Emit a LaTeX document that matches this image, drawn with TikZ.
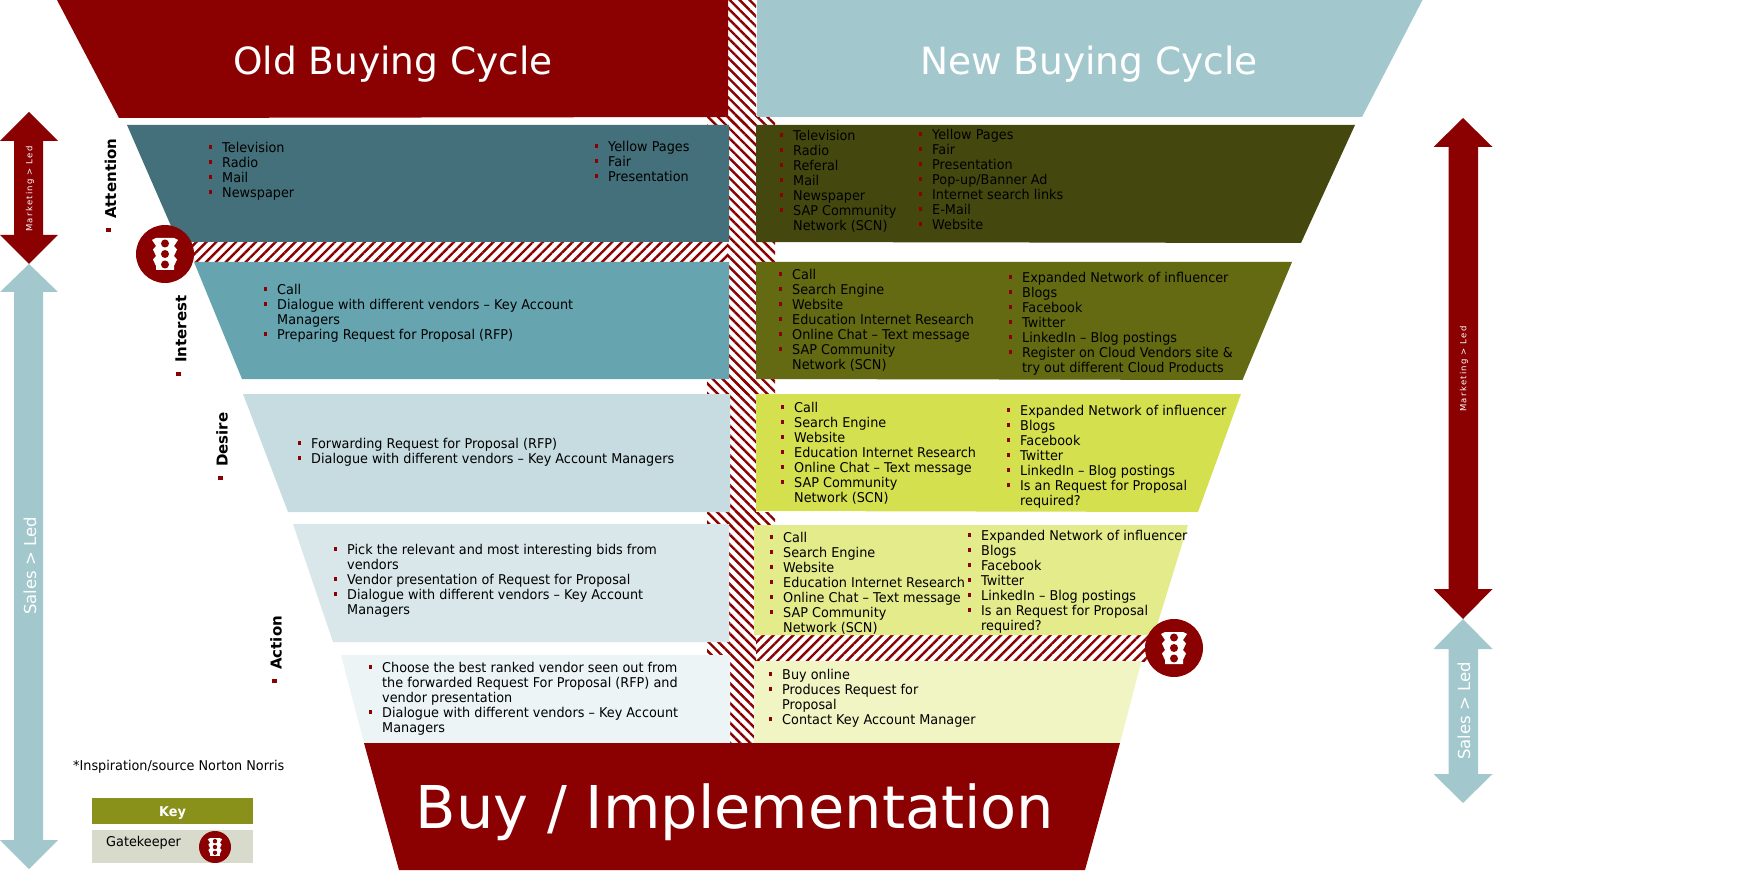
\documentclass[tikz,border=0pt]{standalone}
\usepackage{fontspec}
\setmainfont[FakeStretch=0.95]{DejaVu Sans}
\newfontfamily\headfont{DejaVu Sans}
\newfontfamily\stagefont{DejaVu Sans}
\newfontfamily\spacedfont[LetterSpace=15]{DejaVu Sans}
\usetikzlibrary{patterns.meta}
\definecolor{dkred}{HTML}{8B0000}
\definecolor{newhead}{HTML}{A2C8CD}
\definecolor{oa}{HTML}{43707A}
\definecolor{ob}{HTML}{66A4AF}
\definecolor{oc}{HTML}{C6DCE0}
\definecolor{od}{HTML}{D9E7EA}
\definecolor{oe}{HTML}{ECF4F5}
\definecolor{na}{HTML}{45480E}
\definecolor{nb}{HTML}{636A12}
\definecolor{nc}{HTML}{D5E04F}
\definecolor{nd}{HTML}{E4EB8A}
\definecolor{ne}{HTML}{F1F4C3}
\definecolor{keyc}{HTML}{8A911A}
\definecolor{gatec}{HTML}{D8DACC}
\newcommand{\itm}{\makebox[13.5pt][l]{\rule[-3.5pt]{0pt}{15pt}\textcolor{dkred}{\rule[3pt]{3pt}{4pt}}}}
\newcommand{\cnt}{\hspace*{13.5pt}\rule[-3.5pt]{0pt}{15pt}}
\tikzset{
  lst/.style={anchor=north west,inner sep=0pt,align=left,font=\fontsize{13.5}{15}\selectfont,text=black},
  hatchr/.style={pattern={Lines[angle=-45,distance=7pt,line width=2.4pt]},pattern color=dkred},
  hatchl/.style={pattern={Lines[angle=45,distance=7pt,line width=2.4pt]},pattern color=dkred},
  title/.style={text=white,inner sep=0pt,font=\headfont\fontsize{37.5}{44}\selectfont},
  stage/.style={rotate=90,anchor=west,inner sep=0pt,font=\stagefont\bfseries\fontsize{15}{17}\selectfont},
  arrowtext/.style={rotate=90,text=white,inner sep=0pt},
  pics/signal/.style={code={
    \fill[white] (-9,-16)--(9,-16)--(13,-14)--(9,-8)--(12,-4.5)--(9,2)--(12,5.5)--(9,12)--(9,16)--(-9,16)--(-9,12)--(-12,5.5)--(-9,2)--(-12,-4.5)--(-9,-8)--(-13,-14)--cycle;
    \fill[dkred] (0,-10.5) circle[radius=4] (0,0) circle[radius=4] (0,10.5) circle[radius=4];
  }},
}
\begin{document}
\begin{tikzpicture}[x=1pt,y=-1pt]
\useasboundingbox (0,0) rectangle (1742,874);
% hatching
\path[hatchr] (728,0) rectangle (756,743);
\foreach \a/\b in {117/125,379/394,512/525}{
  \path[hatchr] (707,\a) rectangle (775,\b);
}
\path[hatchr] (707,642) rectangle (728,655);
\path[hatchl] (190,242) rectangle (728,262);
\path[hatchr] (756,242) rectangle (775,262);
\path[hatchl] (756,635) rectangle (1160,661);
% old cycle
\fill[dkred] (57,0)--(728,0)--(728,117)--(119,118)--cycle;
\fill[oa] (127,125)--(729,125)--(729,242)--(178,242)--cycle;
\fill[ob] (194,262)--(729,262)--(729,379)--(242,379)--cycle;
\fill[oc] (243,394)--(730,394)--(730,512)--(288,512)--cycle;
\fill[od] (293,524)--(729,524)--(729,642)--(333,642)--cycle;
\fill[oe] (341,655)--(730,655)--(730,743)--(364,743)--cycle;
% new cycle
\fill[newhead] (757,0)--(1422.5,0)--(1362,117)--(757,117)--cycle;
\fill[na] (756,125)--(1355,125)--(1301,243)--(756,242)--cycle;
\fill[nb] (756,262)--(1292,262)--(1242.5,380)--(756,379)--cycle;
\fill[nc] (756,394)--(1241,394)--(1198,512)--(756,511)--cycle;
\fill[nd] (754,525)--(1188,525)--(1154,635)--(754,635)--cycle;
\fill[ne] (754,661)--(1141.5,661)--(1120,743)--(754,743)--cycle;
% bottom
\fill[dkred] (364,743)--(1120,743)--(1085,870)--(399,870)--cycle;
% side arrows
\fill[dkred] (29,112)--(58,141)--(43,141)--(43,235)--(58,235)--(29,264)--(0,235)--(14,235)--(14,141)--(0,141)--cycle;
\fill[newhead] (29,264)--(58,292)--(43,292)--(43,840)--(58,840)--(29,869)--(0,840)--(14,840)--(14,292)--(0,292)--cycle;
\fill[dkred] (1463,118)--(1492.5,147)--(1478,147)--(1478,589)--(1492.5,589)--(1463,619)--(1433.5,589)--(1448.5,589)--(1448.5,147)--(1433.5,147)--cycle;
\fill[newhead] (1463,619)--(1492.5,649)--(1478,649)--(1478,774)--(1492.5,774)--(1463,803)--(1433.5,774)--(1448.5,774)--(1448.5,649)--(1433.5,649)--cycle;
% titles
\node[title] (oldt) at (393,64) {Old Buying Cycle};
\node[title] (newt) at (1089,64) {New Buying Cycle};
\node[title,font=\headfont\fontsize{59}{70}\selectfont] (buyt) at (735,812) {Buy / Implementation};
% arrow labels
\node[arrowtext,font=\spacedfont\fontsize{8.5}{10}\selectfont] (ml) at (30,189) {Marketing > Led};
\node[arrowtext,font=\spacedfont\fontsize{8.5}{10}\selectfont] (mr) at (1464,369) {Marketing > Led};
\node[arrowtext,font=\headfont\fontsize{16.5}{18}\selectfont] (sl) at (30,566) {Sales > Led};
\node[arrowtext,font=\headfont\fontsize{16.5}{18}\selectfont] (sr) at (1464,711) {Sales > Led};
% stage labels
\node[stage] (s1) at (110.5,232) {\textcolor{dkred}{\rule[5pt]{4pt}{5pt}}\hspace{9pt}Attention};
\node[stage] (s2) at (181,376) {\textcolor{dkred}{\rule[5pt]{4pt}{5pt}}\hspace{9pt}Interest};
\node[stage] (s3) at (222,480) {\textcolor{dkred}{\rule[5pt]{4pt}{5pt}}\hspace{9pt}Desire};
\node[stage] (s4) at (276,683) {\textcolor{dkred}{\rule[5pt]{4pt}{5pt}}\hspace{9pt}Action};
% old lists
\node[lst] (oa1) at (208.5,140.5) {\itm Television\\\itm Radio\\\itm Mail\\\itm Newspaper};
\node[lst] (oa2) at (594.5,139.5) {\itm Yellow Pages\\\itm Fair\\\itm Presentation};
\node[lst] (ob1) at (263.5,282.5) {\itm Call\\\itm Dialogue with different vendors – Key Account\\\cnt Managers\\\itm Preparing Request for Proposal (RFP)};
\node[lst] (oc1) at (297.5,436.5) {\itm Forwarding Request for Proposal (RFP)\\\itm Dialogue with different vendors – Key Account Managers};
\node[lst] (od1) at (333.5,542.5) {\itm Pick the relevant and most interesting bids from\\\cnt vendors\\\itm Vendor presentation of Request for Proposal\\\itm Dialogue with different vendors – Key Account\\\cnt Managers};
\node[lst] (oe1) at (368.5,660.5) {\itm Choose the best ranked vendor seen out from\\\cnt the forwarded Request For Proposal (RFP) and\\\cnt vendor presentation\\\itm Dialogue with different vendors – Key Account\\\cnt Managers};
% new lists
\node[lst] (na1) at (779.5,128.5) {\itm Television\\\itm Radio\\\itm Referal\\\itm Mail\\\itm Newspaper\\\itm SAP Community\\\cnt Network (SCN)};
\node[lst] (na2) at (918.5,127.5) {\itm Yellow Pages\\\itm Fair\\\itm Presentation\\\itm Pop-up/Banner Ad\\\itm Internet search links\\\itm E-Mail\\\itm Website};
\node[lst] (nb1) at (778.5,267.5) {\itm Call\\\itm Search Engine\\\itm Website\\\itm Education Internet Research\\\itm Online Chat – Text message\\\itm SAP Community\\\cnt Network (SCN)};
\node[lst] (nb2) at (1008.5,270.5) {\itm Expanded Network of influencer\\\itm Blogs\\\itm Facebook\\\itm Twitter\\\itm LinkedIn – Blog postings\\\itm Register on Cloud Vendors site \&\\\cnt try out different Cloud Products};
\node[lst] (nc1) at (780.5,400.5) {\itm Call\\\itm Search Engine\\\itm Website\\\itm Education Internet Research\\\itm Online Chat – Text message\\\itm SAP Community\\\cnt Network (SCN)};
\node[lst] (nc2) at (1006.5,403.5) {\itm Expanded Network of influencer\\\itm Blogs\\\itm Facebook\\\itm Twitter\\\itm LinkedIn – Blog postings\\\itm Is an Request for Proposal\\\cnt required?};
\node[lst] (nd1) at (769.5,530.5) {\itm Call\\\itm Search Engine\\\itm Website\\\itm Education Internet Research\\\itm Online Chat – Text message\\\itm SAP Community\\\cnt Network (SCN)};
\node[lst] (nd2) at (967.5,528.5) {\itm Expanded Network of influencer\\\itm Blogs\\\itm Facebook\\\itm Twitter\\\itm LinkedIn – Blog postings\\\itm Is an Request for Proposal\\\cnt required?};
\node[lst] (ne1) at (768.5,667.5) {\itm Buy online\\\itm Produces Request for\\\cnt Proposal\\\itm Contact Key Account Manager};
% gatekeepers
\node[circle,fill=dkred,minimum size=58pt,inner sep=0pt] (g1) at (165,254) {};
\pic at (g1) {signal};
\node[circle,fill=dkred,minimum size=58pt,inner sep=0pt] (g2) at (1174,648) {};
\pic at (g2) {signal};
% key
\node[anchor=west,inner sep=0pt,font=\fontsize{13.5}{15}\selectfont] (src) at (73,767) {*Inspiration/source Norton Norris};
\node[fill=keyc,minimum width=161pt,minimum height=26pt,inner sep=0pt] (key) at (172.5,811) {};
\node[text=white,inner sep=0pt,font=\bfseries\fontsize{13.5}{15}\selectfont] (keyt) at (172.5,813) {Key};
\node[fill=gatec,minimum width=161pt,minimum height=33pt,inner sep=0pt] (gate) at (172.5,846.5) {};
\node[anchor=west,inner sep=0pt,font=\fontsize{13.5}{15}\selectfont] (gt) at (106,843) {Gatekeeper};
\node[circle,fill=dkred,minimum size=32pt,inner sep=0pt] (g3) at (215,847) {};
\pic[scale=0.55] at (g3) {signal};
\end{tikzpicture}
\end{document}
